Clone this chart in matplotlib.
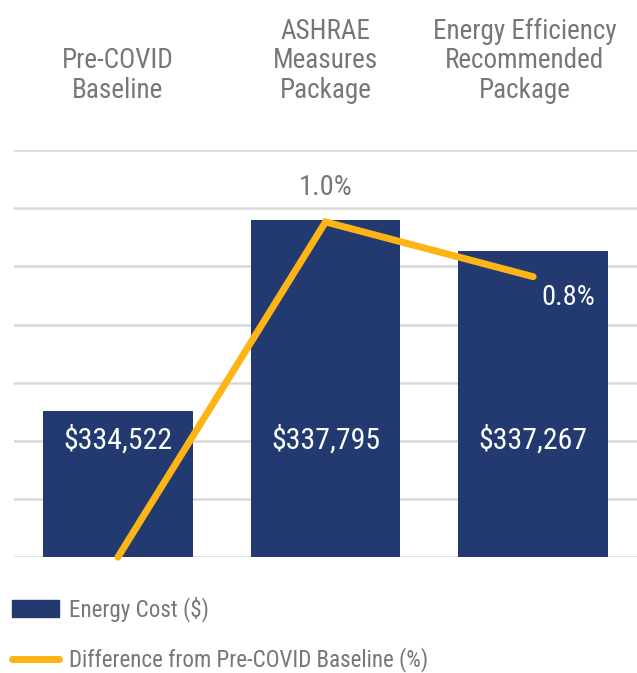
import matplotlib
matplotlib.use("Agg")
import matplotlib.pyplot as plt
from matplotlib import font_manager
from matplotlib.lines import Line2D
from matplotlib.patches import Patch

categories = ["Pre-COVID\nBaseline", "ASHRAE\nMeasures\nPackage", "Energy Efficiency\nRecommended\nPackage"]
energy_cost = [334522, 337795, 337267]
diff_pct = [0.0, 0.98, 0.82]
cost_labels = ["$334,522", "$337,795", "$337,267"]
pct_labels = ["", "1.0%", "0.8%"]

# pick a condensed font if there is one
names = {f.name for f in font_manager.fontManager.ttflist}
font = "DejaVu Sans"
for cand in ["Roboto Condensed", "Liberation Sans Narrow", "Open Sans Condensed", "Noto Sans Condensed"]:
    if cand in names:
        font = cand
        break
plt.rcParams["font.family"] = [font, "DejaVu Sans"]

navy = "#223A6F"
gold = "#FDB414"
grey = "#76777B"

fig = plt.figure(figsize=(6.37, 6.73), dpi=100)
ax = fig.add_axes([0.022, 0.172, 0.978, 0.605])
x = range(len(categories))
ax.bar(x, energy_cost, width=0.72, color=navy, zorder=2)
ax.set_ylim(332000, 339000)
ax.set_xlim(-0.5, 2.5)
ax.set_yticks(range(332000, 339001, 1000))
ax.grid(axis="y", color="#D9D9D9", linewidth=1.8, zorder=0)
for s in ax.spines.values():
    s.set_visible(False)
for i, t in enumerate(cost_labels):
    ax.text(i, 334020, t, color="white", fontsize=21.5,
            ha="center", va="center", zorder=4)
for i, c in enumerate(categories):
    ax.text(i - (0.04 if i == 2 else 0), 339800, c, color=grey, fontsize=19.5,
            ha="center", va="bottom", linespacing=1.12)

ax2 = ax.twinx()
ax2.set_ylim(0, 1.19)
ax2.plot(list(x), diff_pct, color=gold, linewidth=5, solid_capstyle="round",
         solid_joinstyle="miter", zorder=3, clip_on=False)
ax2.axis("off")
ax2.text(1, diff_pct[1] + 0.1, pct_labels[1], color=grey, fontsize=20.5,
         ha="center", va="center")
ax2.text(2.17, diff_pct[2] - 0.06, pct_labels[2], color="white", fontsize=20.5,
         ha="center", va="center")
ax.tick_params(left=False, right=False, bottom=False, labelleft=False, labelbottom=False)

handles = [Patch(color=navy), Line2D([0], [0], color=gold, linewidth=5, solid_capstyle="round")]
fig.legend(handles, ["Energy Cost ($)", "Difference from Pre-COVID Baseline (%)"],
           loc="upper left", bbox_to_anchor=(0.0, 1 - 585 / 673), frameon=False,
           labelcolor=grey, handlelength=2.05, handleheight=0.7,
           labelspacing=1.1, handletextpad=0.45, borderaxespad=0.0, borderpad=0.5,
           prop={"size": 16.6})

fig.savefig("out.png", dpi=100)
